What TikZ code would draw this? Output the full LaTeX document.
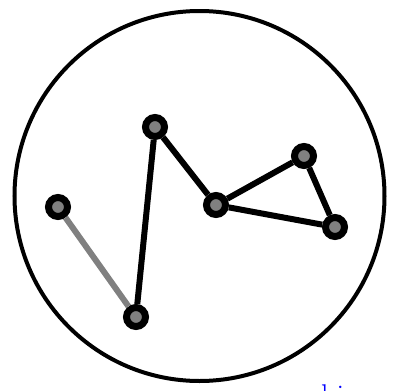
\documentclass[tikz,border=0pt]{standalone}
\begin{document}
\begin{tikzpicture}[x=1pt,y=-1pt,
  vert/.style={circle,draw=black,fill=gray,line width=7pt,minimum size=19pt,inner sep=0pt},
  edge/.style={line width=6pt}]
  \useasboundingbox (0,0) rectangle (394,391);
  \draw[line width=4pt] (199.5,196) circle[radius=185];
  \foreach \n/\x/\y in {a/58/207, b/136/317, c/155/127, d/216/205, e/304/156, f/335/227}
    \node[vert] (\n) at (\x,\y) {};
  \draw[edge,gray] (a) -- (b);
  \foreach \u/\v in {b/c, c/d, d/e, e/f, f/d}
    \draw[edge] (\u) -- (\v);
  \node[blue,anchor=base west,inner sep=0pt,font=\fontsize{30}{36}\selectfont] (lbl) at (321,405) {bi};
\end{tikzpicture}
\end{document}
